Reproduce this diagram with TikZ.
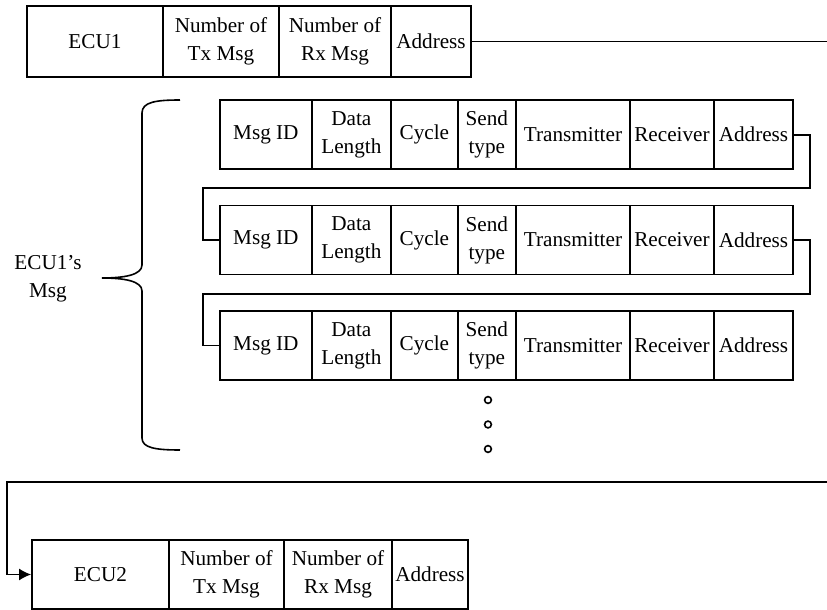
\documentclass[tikz,border=0pt]{standalone}
\usepackage{fontspec}
\setmainfont{Liberation Serif}
\usetikzlibrary{arrows.meta}
\begin{document}
\begin{tikzpicture}[x=0.5pt,y=-0.5pt,
  cell/.style={draw,line width=0.85pt,rectangle,inner sep=0pt,align=center,
    font=\fontsize{10.6}{14}\selectfont},
  rowcell/.style={cell,minimum height=34.5pt},
  topcell/.style={cell,minimum height=35.5pt},
  conn/.style={line width=0.85pt},
  dotc/.style={draw,circle,line width=0.8pt,inner sep=0pt,minimum size=3.4pt}]
\useasboundingbox (0,0) rectangle (827,610);

% ECU1 row
\node[topcell,minimum width=68pt] (a-ecu) at (95,41.5) {ECU1};
\node[topcell,minimum width=58pt] (a-tx) at (221,41.5) {Number of\\Tx Msg};
\node[topcell,minimum width=56pt] (a-rx) at (335,41.5) {Number of\\Rx Msg};
\node[topcell,minimum width=40pt] (a-ad) at (431,41.5) {Address};
\coordinate (topend) at (827,41.5);
\draw[conn] (a-ad.east) -- (topend);

% message rows
\foreach \k/\yy in {1/134.75,2/240,3/345.5}{
  \node[rowcell,minimum width=45.85pt] (r\k-id) at (265.85,\yy) {Msg ID};
  \node[rowcell,minimum width=39.65pt] (r\k-dl) at (351.35,\yy) {Data\\Length};
  \node[rowcell,minimum width=33.35pt] (r\k-cy) at (424.35,\yy) {Cycle};
  \node[rowcell,minimum width=29.15pt] (r\k-st) at (486.85,\yy) {Send\\type};
  \node[rowcell,minimum width=57pt] (r\k-tr) at (573,\yy) {Transmitter};
  \node[rowcell,minimum width=42pt] (r\k-re) at (672,\yy) {Receiver};
  \node[rowcell,minimum width=39.5pt] (r\k-ad) at (753.5,\yy) {Address};
}

% connectors between message rows
\coordinate (c1a) at (810,188);
\coordinate (c1b) at (203,188);
\draw[conn] (r1-ad.east) -| (c1a) -- (c1b) |- (r2-id.west);
\coordinate (c2a) at (810,294);
\coordinate (c2b) at (203,294);
\draw[conn] (r2-ad.east) -| (c2a) -- (c2b) |- (r3-id.west);

% continuation dots
\node[dotc] (d1) at (488,400) {};
\node[dotc] (d2) at (488,424.5) {};
\node[dotc] (d3) at (488,449) {};

% brace and label
\draw[line width=0.8pt] (180,100) .. controls (156,100) and (142,102) .. (142,113)
  -- (142,265) .. controls (142,275) and (124,278) .. (102,278)
  .. controls (124,278) and (142,281) .. (142,291)
  -- (142,438) .. controls (142,448) and (156,450) .. (180,450);
\node[align=center,inner sep=0pt,font=\fontsize{10.6}{14}\selectfont] (lbl) at (48,279) {ECU1’s\\Msg};

% ECU2 row
\node[rowcell,minimum width=68.5pt] (e-ecu) at (100.5,574.5) {ECU2};
\node[rowcell,minimum width=57.5pt] (e-tx) at (226.5,574.5) {Number of\\Tx Msg};
\node[rowcell,minimum width=54pt] (e-rx) at (338,574.5) {Number of\\Rx Msg};
\node[rowcell,minimum width=38pt] (e-ad) at (430,574.5) {Address};

\coordinate (botstart) at (827,482);
\coordinate (botcorner) at (7,482);
\draw[conn,-{Latex[length=6pt,width=6pt]}] (botstart) -- (botcorner) |- (e-ecu.west);
\end{tikzpicture}
\end{document}
